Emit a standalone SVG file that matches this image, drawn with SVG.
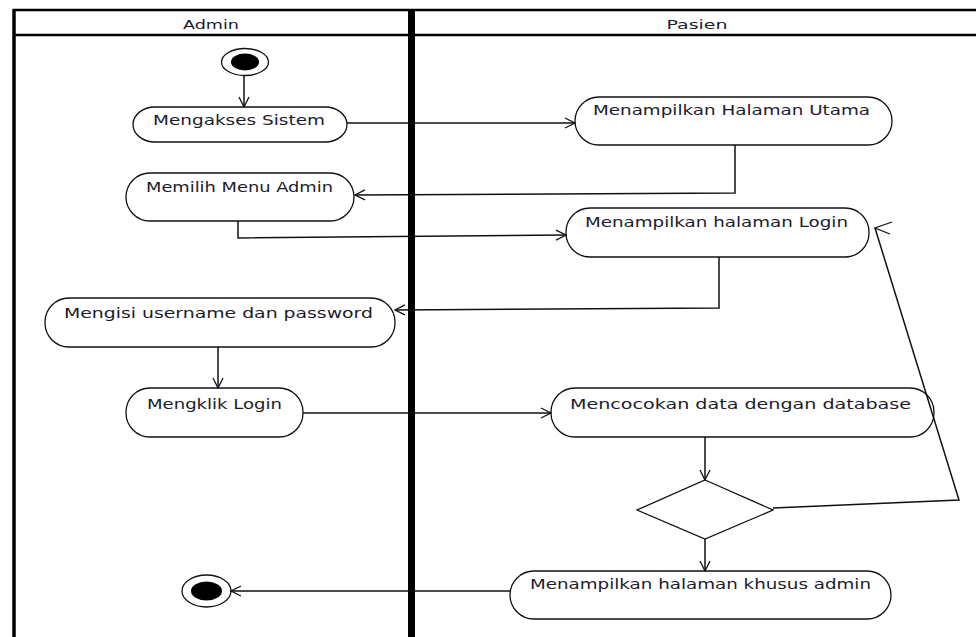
<svg xmlns="http://www.w3.org/2000/svg" width="976" height="637" viewBox="0 0 976 637">
  <style>
    .frame { stroke: #000; stroke-width: 2.5; fill: none; }
    .act { fill: #fff; stroke: #111; stroke-width: 1.3; }
    .lbl { font-family: "DejaVu Sans", Verdana, sans-serif; font-size: 14px; fill: #1c1c2c; }
    .hdr { font-family: "DejaVu Sans", Verdana, sans-serif; font-size: 13px; fill: #1c1c2c; text-anchor: middle; }
    .flow { stroke: #111; stroke-width: 1.5; fill: none; marker-end: url(#open); }
    .dec { fill: #fff; stroke: #111; stroke-width: 1.3; }
  </style>
  <defs>
    <marker id="open" viewBox="0 0 12 12" refX="11" refY="6" markerWidth="12" markerHeight="12" markerUnits="userSpaceOnUse" orient="auto">
      <path d="M1,1 L11,6 L1,11" fill="none" stroke="#111" stroke-width="1.3"/>
    </marker>
  </defs>

  <rect width="976" height="637" fill="#fff"/>

  <!-- swimlane frame -->
  <g id="swimlanes">
    <line class="frame" x1="13" y1="10" x2="976" y2="10"/>
    <line class="frame" x1="13" y1="35" x2="976" y2="35"/>
    <line x1="14" y1="9" x2="14" y2="637" stroke="#000" stroke-width="3.5"/>
    <line x1="411.5" y1="9" x2="411.5" y2="637" stroke="#000" stroke-width="7"/>
    <text class="hdr" x="211" y="29" textLength="56" lengthAdjust="spacingAndGlyphs">Admin</text>
    <text class="hdr" x="697" y="29" textLength="61" lengthAdjust="spacingAndGlyphs">Pasien</text>
  </g>

  <!-- start / end -->
  <g id="start">
    <ellipse cx="245" cy="62" rx="23.5" ry="13.5" fill="#fff" stroke="#111" stroke-width="1.3"/>
    <ellipse cx="245" cy="62" rx="14" ry="8.5" fill="#000"/>
  </g>
  <g id="end">
    <ellipse cx="206.5" cy="591" rx="24.5" ry="16" fill="#fff" stroke="#111" stroke-width="1.3"/>
    <ellipse cx="206.5" cy="591" rx="15.5" ry="9.5" fill="#000"/>
  </g>

  <!-- activities -->
  <g id="mengakses-sistem">
    <rect class="act" x="133" y="107" width="214" height="35" rx="22" ry="17.5"/>
    <text class="lbl" x="153" y="125" textLength="172" lengthAdjust="spacingAndGlyphs">Mengakses Sistem</text>
  </g>
  <g id="halaman-utama">
    <rect class="act" x="575" y="97" width="317" height="48" rx="24" ry="24"/>
    <text class="lbl" x="593" y="115" textLength="277" lengthAdjust="spacingAndGlyphs">Menampilkan Halaman Utama</text>
  </g>
  <g id="memilih-menu-admin">
    <rect class="act" x="126" y="173" width="228" height="48" rx="24" ry="24"/>
    <text class="lbl" x="146" y="192" textLength="187" lengthAdjust="spacingAndGlyphs">Memilih Menu Admin</text>
  </g>
  <g id="halaman-login">
    <rect class="act" x="566" y="208" width="303" height="49" rx="24" ry="24"/>
    <text class="lbl" x="585" y="227" textLength="263" lengthAdjust="spacingAndGlyphs">Menampilkan halaman Login</text>
  </g>
  <g id="mengisi-username">
    <rect class="act" x="45" y="298" width="350" height="49" rx="24" ry="24"/>
    <text class="lbl" x="64" y="318" textLength="309" lengthAdjust="spacingAndGlyphs">Mengisi username dan password</text>
  </g>
  <g id="mengklik-login">
    <rect class="act" x="126" y="388" width="177" height="49" rx="24" ry="24"/>
    <text class="lbl" x="147" y="409" textLength="135" lengthAdjust="spacingAndGlyphs">Mengklik Login</text>
  </g>
  <g id="mencocokan-data">
    <rect class="act" x="551" y="388" width="383" height="49" rx="24" ry="24"/>
    <text class="lbl" x="570" y="409" textLength="341" lengthAdjust="spacingAndGlyphs">Mencocokan data dengan database</text>
  </g>
  <g id="decision">
    <polygon class="dec" points="705,480 773,510 705,539 637,510"/>
  </g>
  <g id="halaman-khusus-admin">
    <rect class="act" x="510" y="571" width="381" height="48" rx="24" ry="24"/>
    <text class="lbl" x="530" y="589" textLength="341" lengthAdjust="spacingAndGlyphs">Menampilkan halaman khusus admin</text>
  </g>

  <!-- control flows -->
  <g id="connectors">
    <path class="flow" d="M244,75.5 L244,107"/>
    <path class="flow" d="M347,123 L575,123"/>
    <path class="flow" d="M735,145 L735,193 L355,195"/>
    <path class="flow" d="M238,221 L238,238 L566,235"/>
    <path class="flow" d="M719,257 L719,308 L395,310"/>
    <path class="flow" d="M218,347 L218,388"/>
    <path class="flow" d="M303,413 L551,413"/>
    <path class="flow" d="M705,437 L705,480"/>
    <path class="flow" d="M705,539 L705,571"/>
    <path d="M773,508 L959,500 L875,228" fill="none" stroke="#111" stroke-width="1.5"/>
    <path d="M892,222 L875,228 L890,234" fill="none" stroke="#111" stroke-width="1.3"/>
    <path class="flow" d="M510,591 L231,591"/>
  </g>
</svg>
